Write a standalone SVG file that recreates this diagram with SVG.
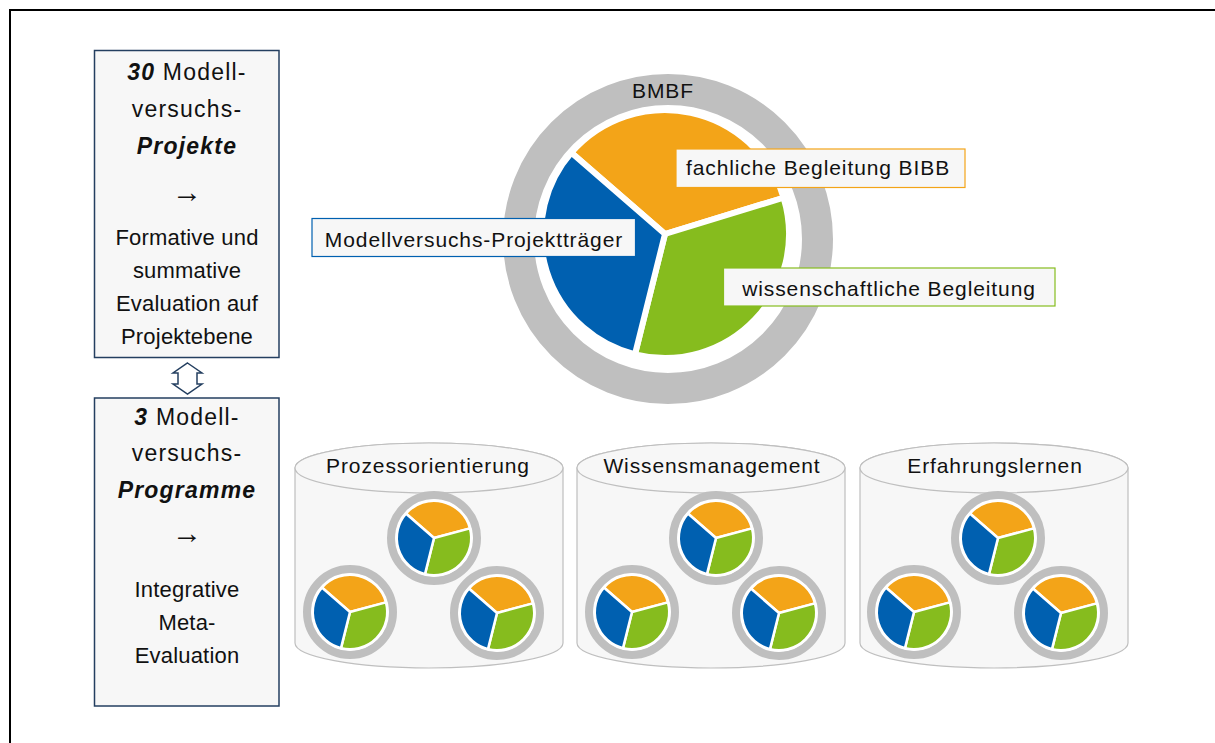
<svg xmlns="http://www.w3.org/2000/svg" width="1215" height="743" viewBox="0 0 1215 743">
  <style>
    text { font-family: "Liberation Sans", Arial, sans-serif; fill: #111; text-anchor: middle; }
    .side { fill: #f7f7f7; stroke: #243f60; stroke-width: 1.5; }
    .up { font-size: 23px; letter-spacing: 1.2px; }
    .low { font-size: 22px; letter-spacing: 0.2px; }
    .arr { font-size: 30px; }
    .bi { font-weight: bold; font-style: italic; }
    .lbl { font-size: 21px; letter-spacing: 0.9px; }
    .tag { fill: #f7f7f7; stroke-width: 1.2; }
    .cyl { fill: #f7f7f7; stroke: #bfbfbf; stroke-width: 1.2; }
    .sep { stroke: #ffffff; stroke-linejoin: round; }
    .org { fill: #f3a418; }
    .blu { fill: #0060b0; }
    .grn { fill: #86bc1e; }
  </style>
  <defs>
    <!-- small three-part wheel used inside the cylinders -->
    <g id="mini">
      <circle r="43" fill="#ffffff" stroke="#bfbfbf" stroke-width="8"/>
      <path class="org sep" stroke-width="2.5" d="M0,0 L-28.11,-24.44 A37.25,37.25 0 0 1 35.98,-9.64 Z"/>
      <path class="grn sep" stroke-width="2.5" d="M0,0 L35.98,-9.64 A37.25,37.25 0 0 1 -9.01,36.14 Z"/>
      <path class="blu sep" stroke-width="2.5" d="M0,0 L-9.01,36.14 A37.25,37.25 0 0 1 -28.11,-24.44 Z"/>
    </g>
  </defs>

  <rect width="1215" height="743" fill="#ffffff"/>
  <!-- outer frame -->
  <rect x="10" y="10" width="1400" height="900" fill="none" stroke="#000" stroke-width="2"/>

  <!-- left column: project level -->
  <g id="box-projekte">
    <rect class="side" x="94.5" y="50.5" width="184.5" height="307"/>
    <text class="up" x="187" y="80"><tspan class="bi">30</tspan> Modell-</text>
    <text class="up" x="187" y="117">versuchs-</text>
    <text class="up bi" x="187" y="154">Projekte</text>
    <text class="arr" x="187" y="202">→</text>
    <text class="low" x="187" y="245">Formative und</text>
    <text class="low" x="187" y="278">summative</text>
    <text class="low" x="187" y="311">Evaluation auf</text>
    <text class="low" x="187" y="344">Projektebene</text>
  </g>

  <!-- left column: programme level -->
  <g id="box-programme">
    <rect class="side" x="94.5" y="398" width="184.5" height="308"/>
    <text class="up" x="187" y="425"><tspan class="bi">3</tspan> Modell-</text>
    <text class="up" x="187" y="461">versuchs-</text>
    <text class="up bi" x="187" y="498">Programme</text>
    <text class="arr" x="187" y="543">→</text>
    <text class="low" x="187" y="597">Integrative</text>
    <text class="low" x="187" y="630">Meta-</text>
    <text class="low" x="187" y="663">Evaluation</text>
  </g>

  <!-- connectors -->
  <g id="connectors">
    <path d="M187.5,363 L202,373 L197,373 L197,384 L202,384 L187.5,394 L173,384 L178,384 L178,373 L173,373 Z" fill="#ffffff" stroke="#243f60" stroke-width="1.5" stroke-linejoin="miter"/>
  </g>

  <!-- BMBF wheel -->
  <g id="bmbf">
    <circle cx="668" cy="239" r="149.5" fill="none" stroke="#bfbfbf" stroke-width="31"/>
    <text class="lbl" x="663" y="98">BMBF</text>
    <path class="org sep" stroke-width="6" d="M665,234 L571.42,152.64 A124,124 0 0 1 783.58,197.75 Z"/>
    <path class="grn sep" stroke-width="6" d="M665,234 L783.58,197.75 A124,124 0 0 1 635.00,354.32 Z"/>
    <path class="blu sep" stroke-width="6" d="M665,234 L635.00,354.32 A124,124 0 0 1 571.42,152.64 Z"/>
  </g>

  <g id="label-traeger">
    <rect class="tag" x="312" y="218.5" width="323.5" height="38" stroke="#0060b0"/>
    <text class="lbl" x="474" y="247">Modellversuchs-Projektträger</text>
  </g>
  <g id="label-bibb">
    <rect class="tag" x="676" y="149" width="289" height="38.5" stroke="#f3a418"/>
    <text class="lbl" x="818" y="175">fachliche Begleitung BIBB</text>
  </g>
  <g id="label-wiss">
    <rect class="tag" x="723.5" y="268" width="331.5" height="38" stroke="#86bc1e"/>
    <text class="lbl" x="889" y="296">wissenschaftliche Begleitung</text>
  </g>

  <!-- programme cylinders -->
  <g id="cyl-prozess">
    <path class="cyl" d="M295,468 A134,25 0 0 1 563,468 L563,643 A134,25 0 0 1 295,643 Z"/>
    <ellipse class="cyl" cx="429" cy="468" rx="134" ry="25"/>
    <text class="lbl" x="428" y="473">Prozessorientierung</text>
    <use href="#mini" x="434" y="538"/>
    <use href="#mini" x="350" y="612"/>
    <use href="#mini" x="497" y="613"/>
  </g>
  <g id="cyl-wissen">
    <path class="cyl" d="M577,468 A134,25 0 0 1 845,468 L845,643 A134,25 0 0 1 577,643 Z"/>
    <ellipse class="cyl" cx="711" cy="468" rx="134" ry="25"/>
    <text class="lbl" x="712" y="473">Wissensmanagement</text>
    <use href="#mini" x="716" y="538"/>
    <use href="#mini" x="632" y="612"/>
    <use href="#mini" x="779" y="613"/>
  </g>
  <g id="cyl-erfahrung">
    <path class="cyl" d="M860,468 A134,25 0 0 1 1128,468 L1128,643 A134,25 0 0 1 860,643 Z"/>
    <ellipse class="cyl" cx="994" cy="468" rx="134" ry="25"/>
    <text class="lbl" x="995" y="473">Erfahrungslernen</text>
    <use href="#mini" x="998" y="538"/>
    <use href="#mini" x="914" y="612"/>
    <use href="#mini" x="1061" y="613"/>
  </g>
</svg>
